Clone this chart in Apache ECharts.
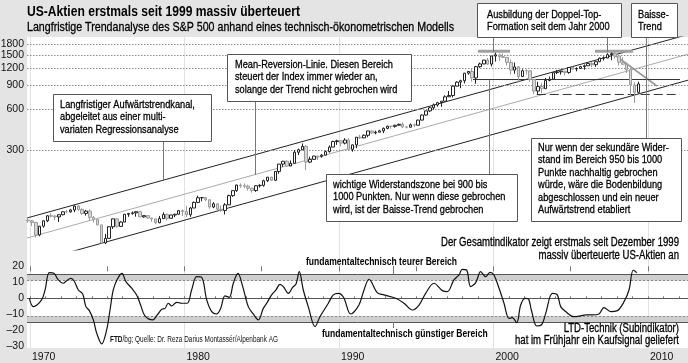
<!DOCTYPE html>
<html><head><meta charset="utf-8">
<script src="https://cdn.jsdelivr.net/npm/echarts@6/dist/echarts.min.js"></script>
<style>html,body{margin:0;padding:0;background:#e4e4e4}#c{width:688px;height:363px}</style>
</head><body><div id="c"></div><script>
// ---- Data ----
const firstQuarter = 1969.75;            // 1969 Q4
const firstOpen = 93.12;
const closes = [92.06,89.63,72.72,84.21,92.15,100.31,99.70,98.34,102.09,107.20,107.14,110.55,118.05,111.52,104.26,108.43,97.55,93.98,86.00,63.54,68.56,83.36,95.19,83.87,90.19,102.77,104.28,105.24,107.46,98.42,100.48,96.53,95.10,89.21,95.53,102.54,96.11,101.59,102.91,109.32,107.94,102.09,114.24,125.46,135.76,136.00,131.21,116.18,122.55,111.96,109.61,120.42,140.64,152.96,168.11,166.07,164.93,159.18,153.18,166.10,167.24,180.66,191.85,182.08,211.28,238.90,250.84,231.32,242.17,291.70,304.00,321.83,247.08,258.89,273.50,271.91,277.72,294.87,317.98,349.15,353.40,339.94,358.02,306.05,330.22,375.22,371.16,387.86,417.09,403.69,408.14,417.80,435.71,451.67,450.53,458.93,466.45,445.77,444.27,462.69,459.27,500.71,544.75,584.41,615.93,645.50,670.63,687.31,740.74,757.12,885.14,947.28,970.43,1101.75,1133.84,1017.01,1229.23,1286.37,1372.71,1282.71,1469.25,1498.58,1454.60,1436.51,1320.28,1160.33,1224.42,1040.94,1148.08,1147.39,989.82,815.28,879.82,848.18,974.50,995.97,1111.92,1126.21,1140.84,1114.58,1211.92,1180.59,1191.33,1228.81,1248.29,1294.83,1270.20,1335.85,1418.30,1420.86,1503.35,1526.75,1468.36,1322.70,1280.00,1166.36,903.25,797.87,919.32];
const highs = [98.3,93.5,90.0,84.5,92.5,101.0,104.8,101.5,102.5,108.0,110.7,112.5,119.5,120.2,113.5,110.5,111.8,99.8,94.5,86.0,74.0,84.0,95.5,95.6,91.5,103.4,104.5,107.8,107.8,107.0,101.0,100.5,97.0,95.0,100.0,106.3,104.0,102.0,103.5,110.5,111.3,118.5,116.0,127.5,140.5,137.0,138.0,132.0,126.0,123.0,119.0,124.0,143.0,153.5,169.0,172.7,172.6,169.0,161.0,168.0,170.4,184.0,192.0,193.0,212.0,239.0,251.0,254.0,254.0,302.0,310.0,337.9,329.0,271.0,274.0,274.0,283.0,300.0,327.0,354.0,360.0,359.0,369.0,369.8,332.0,377.0,391.0,393.0,418.0,420.8,419.0,425.0,442.0,456.0,453.0,463.0,472.0,482.0,453.0,473.0,473.0,504.0,551.0,586.0,623.0,661.0,680.0,690.0,761.0,817.0,899.0,961.0,986.0,1106.0,1139.0,1190.0,1244.0,1316.0,1375.0,1420.0,1474.0,1553.0,1528.0,1530.0,1436.0,1383.0,1316.0,1239.0,1173.0,1173.0,1147.0,994.0,954.0,935.0,1015.0,1040.0,1112.0,1163.0,1150.0,1140.0,1217.0,1229.0,1217.0,1246.0,1275.0,1311.0,1326.0,1340.0,1431.0,1461.0,1540.0,1555.0,1576.0,1471.0,1440.0,1313.0,1167.0,943.0,956.0];
const lows = [89.2,84.5,69.3,71.0,82.0,90.0,97.5,93.5,90.2,101.0,104.7,105.5,106.5,108.8,101.5,100.5,92.2,89.5,86.0,62.5,62.3,68.5,80.5,82.1,83.5,90.0,98.5,102.0,98.8,98.0,97.0,95.5,90.7,86.9,88.5,95.0,92.5,96.0,98.0,102.0,99.8,98.2,98.5,114.0,124.0,128.0,128.0,112.8,114.0,107.3,107.0,102.4,121.0,138.0,150.0,160.0,160.0,153.0,147.8,150.0,161.0,163.5,177.0,180.0,180.0,203.0,228.0,228.0,233.0,242.0,278.0,302.0,216.5,243.0,256.0,256.0,266.0,275.0,290.0,318.0,330.0,322.0,333.0,300.0,294.5,312.0,364.0,370.0,375.0,399.0,394.0,408.0,402.0,429.0,433.0,441.0,456.0,438.0,435.0,442.0,444.0,457.0,499.0,540.0,573.0,597.0,627.0,626.0,683.0,737.0,733.0,891.0,855.0,927.0,1074.0,957.0,923.0,1205.0,1281.0,1268.0,1233.0,1339.0,1356.0,1420.0,1254.0,1081.0,1091.0,944.8,1037.0,1074.0,952.0,775.7,768.6,788.9,847.0,960.0,990.0,1087.0,1076.0,1060.0,1090.0,1163.0,1137.0,1183.0,1168.0,1245.0,1219.0,1224.0,1327.0,1364.0,1416.0,1370.0,1406.0,1256.0,1272.0,1106.0,741.0,666.8,783.0];

// Indicator (bottom panel)
const indYears = [1969.96,1970.22,1970.75,1970.97,1971.25,1971.55,1971.83,1972.16,1972.37,1972.65,1972.85,1973.13,1973.41,1973.62,1973.84,1974.1,1974.32,1974.64,1974.96,1975.18,1975.39,1975.65,1975.95,1976.21,1976.58,1976.9,1977.16,1977.44,1977.94,1978.24,1978.52,1978.74,1978.95,1979.17,1979.49,1979.82,1980.18,1980.46,1980.79,1981.11,1981.44,1981.76,1982.08,1982.34,1982.62,1982.9,1983.16,1983.46,1983.77,1984.13,1984.45,1984.78,1985.1,1985.32,1985.64,1985.92,1986.18,1986.4,1986.72,1987.0,1987.22,1987.43,1987.69,1988.01,1988.45,1988.77,1989.31,1989.63,1989.96,1990.3,1990.76,1991.29,1991.62,1991.94,1992.48,1992.91,1993.67,1994.21,1994.75,1995.18,1995.61,1996.15,1996.69,1997.01,1997.44,1997.77,1997.98,1998.26,1998.52,1998.85,1999.17,1999.49,1999.77,2000.03,2000.36,2000.68,2001.0,2001.22,2001.5,2001.76,2002.04,2002.26,2002.45,2002.8,2003.1,2003.38,2003.81,2004.13,2004.35,2004.67,2005.21,2005.64,2005.97,2006.4,2006.83,2007.15,2007.59,2008.02,2008.45,2008.77,2009.05,2009.27];
const indValues = [0,-5.2,-1,5,16,15.6,11.5,9.4,11,12.5,11,5.2,2.7,-5.2,-7.7,-13.5,-21.9,-28.5,-19.8,-7.3,5.2,11.9,15.6,10.4,6.3,2.1,-4.2,-11,-13.5,-10.4,-6.9,-6.3,-3.1,-4.8,-2.5,-3.1,-3.1,5.2,13.5,13.1,-1,-8.3,-9.8,-6.3,1.5,0.6,9.4,15.6,7.3,-5.2,-9.8,-13.5,-6.3,-3.1,2.1,5.2,8.75,7.3,3.1,6.9,9,16.7,5.2,-5.2,-17.7,-11.5,-3.1,2.1,3.1,0.5,-9.8,-4.2,5.2,11.9,3.5,2.1,0,-3.1,-7.3,-4.2,3.1,9.4,4.8,4.2,11.5,14.6,18.1,17.7,7.3,9.8,16.7,13.5,16.25,14.6,6.25,-3.1,-12.5,-12.1,-15.2,-4.2,0,-0.4,-7.3,-17.3,-16.7,-9.4,3.1,2.1,-5.2,-8.3,-11.5,-11,-10.4,-10.4,-9.8,-5.8,-8.3,-7.7,-2.1,5.2,17.7,16];

// Trend channel and marker lines (year, index level)
const upperLine  = [[1969.81, 96.6], [2012.59, 2109]];
const meanLine   = [[1969.81, 69.0], [2012.59, 1516]];
const lowerLine  = [[1969.81, 44.6], [2012.59, 979]];
const baisseLine = [[2007.67, 1546], [2010.58, 888]];
const resistLine = [[1998.67, 990], [2012.07, 990]];
const lowLine    = [[2002.80, 770], [2012.07, 770]];
const topBar2000 = [[1998.99, 1591], [2001.07, 1591]];
const topBar2007 = [[2006.57, 1591], [2009.03, 1591]];

const priceTicks = [300, 600, 900, 1200, 1500, 1800];
const decadeYears = [1970, 1980, 1990, 2000, 2010];
const bandUpper = [11, 15];
const bandLower = [-15, -11];

// ---- Build ----
const candles = [];
let prev = firstOpen;
for (let i = 0; i < closes.length; i++) {
  const x = firstQuarter + i * 0.25 + 0.125;
  candles.push([x, prev, closes[i], lows[i], highs[i]]);
  prev = closes[i];
}
const indData = indYears.map((y, i) => [y, indValues[i]]);

const FONT = "'Liberation Sans',Arial,sans-serif";
const XMIN = 1969.806, XMAX = 2012.59;

const chart = echarts.init(document.getElementById('c'), null, {renderer: 'canvas'});

function lineSeries(data, color, width, type, z) {
  return {type: 'line', xAxisIndex: 0, yAxisIndex: 0, data: data, symbol: 'none', silent: true,
    lineStyle: {color: color, width: width, type: type || 'solid'}, z: z || 3, animation: false};
}
const axisFont = {color: '#111', fontFamily: FONT, fontSize: 10.5};

const option = {
  backgroundColor: '#e4e4e4',
  animation: false,
  grid: [
    {left: 27, top: 37, width: 661, height: 213},
    {left: 27, top: 266.3, width: 661, height: 80}
  ],
  xAxis: [
    {gridIndex: 0, type: 'value', min: XMIN, max: XMAX, show: false},
    {gridIndex: 1, type: 'value', min: XMIN, max: XMAX,
      axisLine: {show: false},
      axisTick: {show: true, inside: true, length: 2, lineStyle: {color: '#777'},
        customValues: Array.from({length: 43}, (_, k) => 1970 + k)},
      axisLabel: Object.assign({customValues: decadeYears, formatter: v => String(v), align: 'left', margin: 5, padding: [0, 0, 0, 2]}, axisFont),
      splitLine: {show: false}},
    {gridIndex: 1, type: 'value', min: XMIN, max: XMAX,
      axisLine: {show: false},
      axisTick: {show: true, inside: true, length: 5, lineStyle: {color: '#777'},
        customValues: [1970, 1975, 1980, 1985, 1990, 1995, 2000, 2005, 2010]},
      axisLabel: {show: false}, splitLine: {show: false}}
  ],
  yAxis: [
    {gridIndex: 0, type: 'log', min: 56.4, max: 2023, show: false},
    {gridIndex: 1, type: 'value', min: -30, max: 20, interval: 10,
      axisLine: {show: false}, axisTick: {show: false}, splitLine: {show: false},
      axisLabel: Object.assign({margin: 3, formatter: v => String(v).replace('-', '\u2013')}, axisFont)}
  ],
  series: [
    {type: 'candlestick', xAxisIndex: 0, yAxisIndex: 0, data: candles,
      encode: {x: 0, y: [1, 2, 3, 4]}, barWidth: 3, z: 5, silent: true,
      itemStyle: {color: '#ffffff', color0: '#d6d6d6', borderColor: '#222', borderColor0: '#9a9a9a', borderWidth: 1},
      markLine: {symbol: 'none', silent: true, animation: false,
        lineStyle: {color: '#8a8a8a', type: [1.5, 1.5], width: 1},
        label: Object.assign({position: 'start', formatter: p => String(p.value), distance: 3}, axisFont),
        data: priceTicks.map(v => ({yAxis: v}))}
    },
    lineSeries(upperLine, '#222', 1),
    lineSeries(meanLine, '#aaaaaa', 1),
    lineSeries(lowerLine, '#222', 1),
    lineSeries(baisseLine, '#9a9a9a', 1.6),
    lineSeries(resistLine, '#333', 1),
    lineSeries(lowLine, '#333', 1, [9, 4]),
    lineSeries(topBar2000, '#a0a0a0', 3),
    lineSeries(topBar2007, '#a0a0a0', 3),
    {type: 'line', xAxisIndex: 1, yAxisIndex: 1, data: indData, symbol: 'none', smooth: 0.35, silent: true,
      lineStyle: {color: '#111', width: 1.2}, z: 6,
      markArea: {silent: true, itemStyle: {color: '#cfcfcf'},
        data: [[{yAxis: bandUpper[0]}, {yAxis: bandUpper[1]}], [{yAxis: bandLower[0]}, {yAxis: bandLower[1]}]]},
      markLine: {symbol: 'none', silent: true, label: {show: false},
        data: [
          {yAxis: 0, lineStyle: {color: '#555', width: 1, type: 'solid'}},
          {yAxis: bandUpper[1], lineStyle: {color: '#555', width: 1, type: 'solid'}},
          {yAxis: bandLower[0], lineStyle: {color: '#555', width: 1, type: 'solid'}},
          {yAxis: bandUpper[0], lineStyle: {color: '#888', width: 1, type: [2, 2]}},
          {yAxis: bandLower[1], lineStyle: {color: '#888', width: 1, type: [2, 2]}}
        ]}
    }
  ]
};
chart.setOption(option);

// ---- Graphics: panel, decade lines, titles, annotation boxes ----
const mctx = document.createElement('canvas').getContext('2d');
function scaleFor(str, font, target) { mctx.font = font; return target / mctx.measureText(str).width; }

const G = [];
G.push({type: 'rect', z: -5, silent: true, shape: {x: 27, y: 37, width: 661, height: 311}, style: {fill: '#ffffff'}});
decadeYears.forEach(y => {
  const px = Math.round(chart.convertToPixel({xAxisIndex: 1}, y)) + 0.5;
  G.push({type: 'line', z: -4, silent: true, shape: {x1: px, y1: 37, x2: px, y2: 348}, style: {stroke: '#e2e2e2', lineWidth: 1}});
});

function stext(s, x, y, font, sx, align, emb) {
  G.push({type: 'text', z: 55, silent: true, x: x, y: y, scaleX: sx,
    style: {text: s, x: 0, y: 0, font: font, fill: '#000', stroke: emb ? '#000' : null, lineWidth: emb || 0,
      align: align || 'left', verticalAlign: 'middle'}});
}
const TF = "bold 15.5px " + FONT, SF = "13.5px " + FONT;
const TITLE = 'US-Aktien erstmals seit 1999 massiv überteuert';
const SUB = 'Langfristige Trendanalyse des S&P 500 anhand eines technisch-ökonometrischen Modells';
stext(TITLE, 27, 12, TF, scaleFor(TITLE, TF, 273));
stext(SUB, 27, 27, SF, scaleFor(SUB, SF, 427), 'left', 0.3);

function conn(x, y1, y2) { G.push({type: 'line', z: 40, silent: true, shape: {x1: x + 0.5, y1: y1, x2: x + 0.5, y2: y2}, style: {stroke: '#777', lineWidth: 1}}); }
const BF = "11.5px " + FONT;
const boxScale = scaleFor('Mean-Reversion-Linie. Diesen Bereich', BF, 158);
function box(x, y, w, h, text, tx, ty) {
  G.push({type: 'rect', z: 50, silent: true, shape: {x: x + 0.5, y: y + 0.5, width: w, height: h}, style: {fill: '#fff', stroke: '#555', lineWidth: 1}});
  G.push({type: 'text', z: 51, silent: true, x: tx, y: ty, scaleX: boxScale,
    style: {text: text, x: 0, y: 0, verticalAlign: 'top', lineHeight: 12.5, font: BF, fill: '#000', stroke: '#000', lineWidth: 0.3}});
}
conn(163, 141, 180);
conn(255, 101, 175);
conn(493, 37, 52);
conn(607, 37, 52);
conn(489, 80, 174);
conn(646, 37, 138);
conn(393, 266, 274);
conn(393, 322, 328);
box(53, 94, 158, 47, 'Langfristiger Aufwärtstrendkanal,\nabgeleitet aus einer multi-\nvariaten Regressionsanalyse', 60, 98.5);
box(227, 54, 184, 47, 'Mean-Reversion-Linie. Diesen Bereich\nsteuert der Index immer wieder an,\nsolange der Trend nicht gebrochen wird', 235, 58.5);
box(477, 3, 144, 34, 'Ausbildung der Doppel-Top-\nFormation seit dem Jahr 2000', 487, 8.5);
box(631, 3, 46, 34, 'Baisse-\nTrend', 638, 8.5);
box(326, 174, 191, 47, 'wichtige Widerstandszone bei 900 bis\n1000 Punkten. Nur wenn diese gebrochen\nwird, ist der Baisse-Trend gebrochen', 333, 178.5);
box(531, 138, 150, 83, 'Nur wenn der sekundäre Wider-\nstand im Bereich 950 bis 1000\nPunkte nachhaltig gebrochen\nwürde, wäre die Bodenbildung\nabgeschlossen und ein neuer\nAufwärtstrend etabliert', 538, 141.5);

const BOLDF = "bold 10.5px " + FONT, NF = "12px " + FONT, SMF = "8.5px " + FONT;
const bs = scaleFor('fundamentaltechnisch teurer Bereich', BOLDF, 151);
const ns = scaleFor('Der Gesamtindikator zeigt erstmals seit Dezember 1999', NF, 238);
stext('fundamentaltechnisch teurer Bereich', 306, 262, BOLDF, bs);
stext('fundamentaltechnisch günstiger Bereich', 322, 334, BOLDF, bs);
stext('Der Gesamtindikator zeigt erstmals seit Dezember 1999', 679, 243, NF, ns, 'right', 0.3);
stext('massiv überteuerte US-Aktien an', 679, 256, NF, ns, 'right', 0.3);
stext('LTD-Technik (Subindikator)', 679, 329, NF, ns, 'right', 0.3);
stext('hat im Frühjahr ein Kaufsignal geliefert', 679, 341, NF, ns, 'right', 0.3);
const SRC = 'FTD/bg; Quelle: Dr. Reza Darius Montassér/Alpenbank AG';
G.push({type: 'text', z: 55, silent: true, x: 110, y: 340, scaleX: scaleFor(SRC, SMF, 168),
  style: {text: '{b|FTD}/bg; Quelle: Dr. Reza Darius Montassér/Alpenbank AG', x: 0, y: 0, verticalAlign: 'middle',
    font: SMF, fill: '#111', rich: {b: {font: "bold 8.5px " + FONT, fill: '#111'}}}});

chart.setOption({graphic: G});
</script></body></html>
